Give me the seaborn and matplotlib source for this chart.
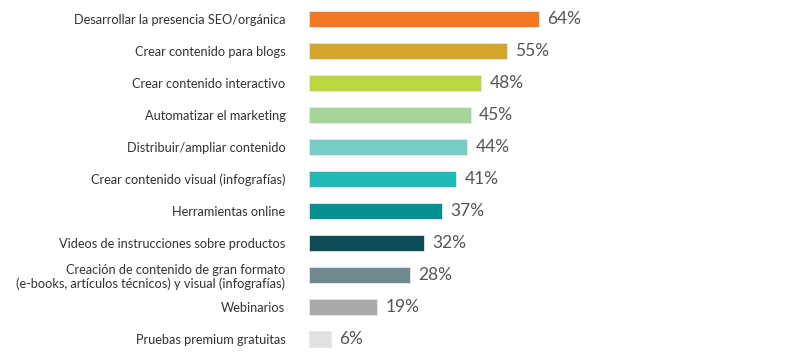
import pandas as pd
import matplotlib
matplotlib.use("Agg")
import matplotlib.pyplot as plt
import seaborn as sns

categories = [
    "Desarrollar la presencia SEO/orgánica",
    "Crear contenido para blogs",
    "Crear contenido interactivo",
    "Automatizar el marketing",
    "Distribuir/ampliar contenido",
    "Crear contenido visual (infografías)",
    "Herramientas online",
    "Videos de instrucciones sobre productos",
    "Creación de contenido de gran formato\n(e-books, artículos técnicos) y visual (infografías)",
    "Webinarios",
    "Pruebas premium gratuitas",
]
values = [64, 55, 48, 45, 44, 41, 37, 32, 28, 19, 6]
colors = ["#F47721", "#D4A72C", "#BCD63E", "#A6D49A", "#76CDC4", "#22B8B6",
          "#068F8F", "#0E4C55", "#6E8A8C", "#AAAAAA", "#E0E1E3"]


def plot_chart(df):
    """Horizontal bar chart of percentages."""
    sns.set_style("white")
    plt.rcParams['font.family'] = ['Lato', 'DejaVu Sans']
    fig = plt.figure(figsize=(7.85, 3.6), dpi=100)
    ax = fig.add_axes([309 / 785, 0, 476 / 785, 1])
    sns.barplot(data=df, y="categoria", x="valor", hue="categoria",
                palette=colors, saturation=1, legend=False, width=0.5, ax=ax,
                orient="h", edgecolor="#E8E8E8", linewidth=0.6)
    ax.set_xlim(0, 132.5)
    ax.set_ylim(10.656, -0.594)
    for c in ax.containers:
        ax.bar_label(c, fmt="%d%%", padding=6, fontsize=12.5, color="#555555")
    ax.set_xlabel("")
    ax.set_ylabel("")
    ax.set_xticks([])
    ax.tick_params(axis="y", length=0, pad=17, labelsize=9.2, labelcolor="#333333")
    sns.despine(ax=ax, left=True, bottom=True)
    fig.savefig("out.png", dpi=100)


def main():
    df = pd.DataFrame({"categoria": categories, "valor": values})
    plot_chart(df)


if __name__ == "__main__":
    main()
